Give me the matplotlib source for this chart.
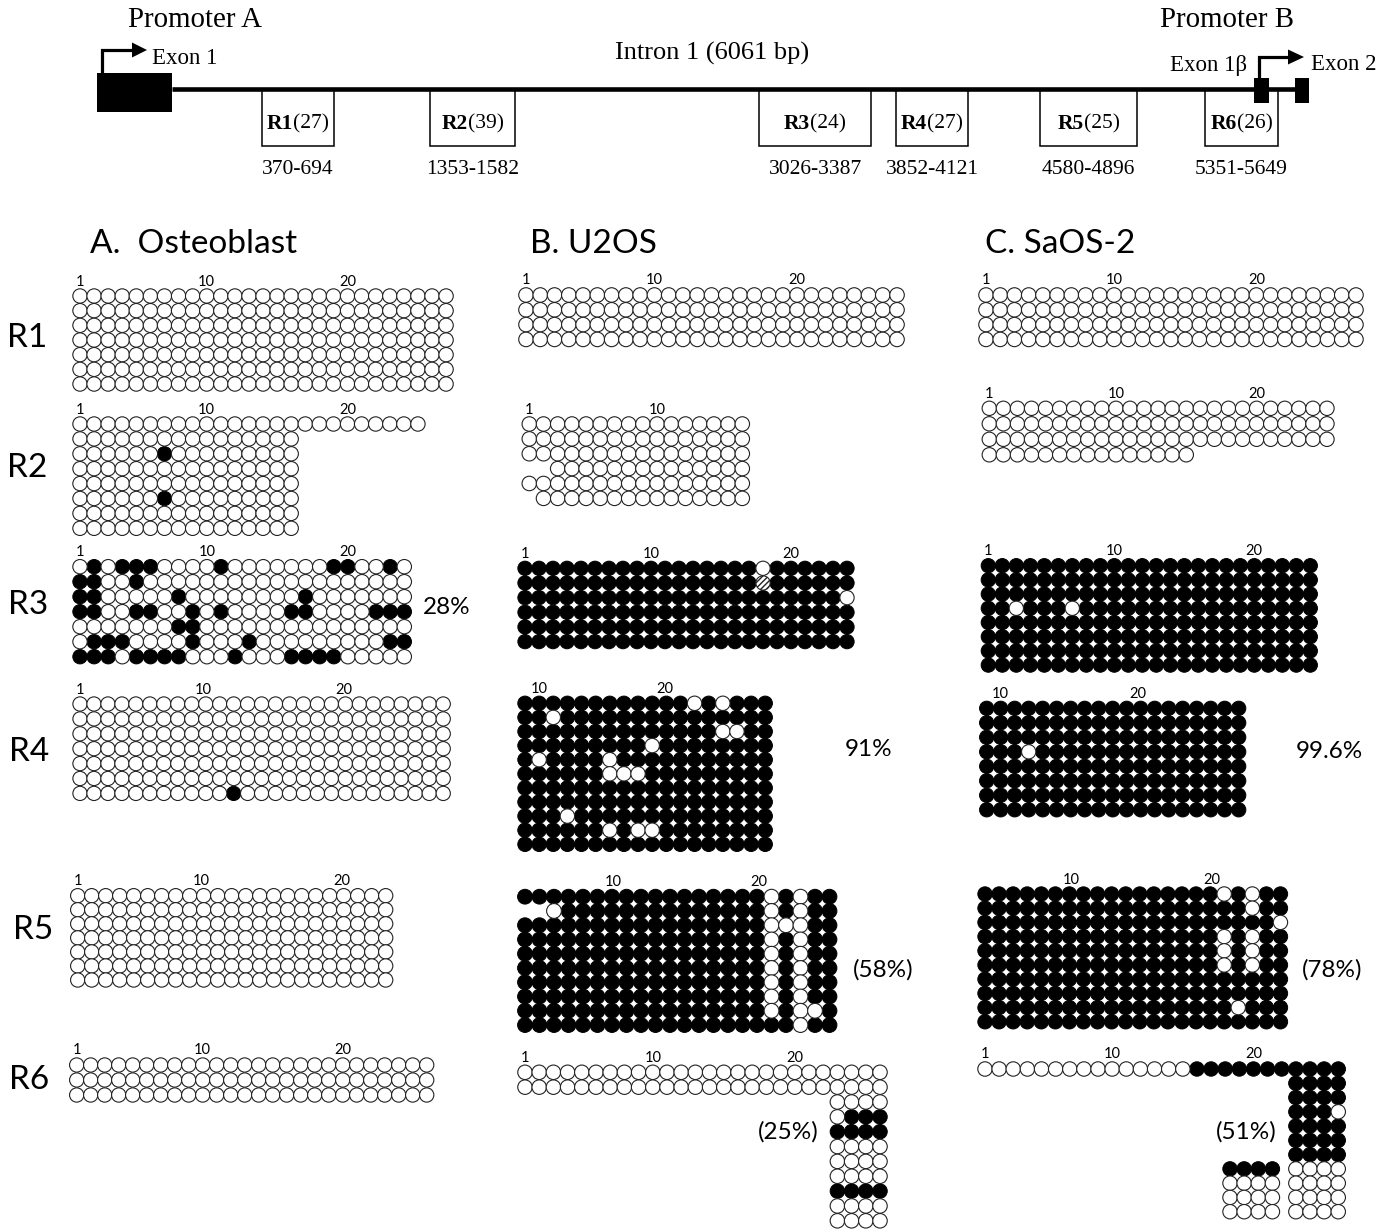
import matplotlib
matplotlib.use("Agg")
import matplotlib.pyplot as plt
from matplotlib.patches import Circle, Rectangle, Polygon
from matplotlib.collections import PatchCollection

SERIF = "Liberation Serif"
SANS = "Lato"

# ---------------- intron 1 map ----------------
regions = ["R1", "R2", "R3", "R4", "R5", "R6"]
region_cpg = [27, 39, 24, 27, 25, 26]
region_span = ["370-694", "1353-1582", "3026-3387", "3852-4121", "4580-4896", "5351-5649"]

# ---------------- bisulfite clones ----------------
# one string per clone: 1 = methylated CpG, 0 = unmethylated, / = not determined, . = no read
osteo_r1 = [
    "00000 00000 00000 00000 00000 00",
    "00000 00000 00000 00000 00000 00",
    "00000 00000 00000 00000 00000 00",
    "00000 00000 00000 00000 00000 00",
    "00000 00000 00000 00000 00000 00",
    "00000 00000 00000 00000 00000 00",
    "00000 00000 00000 00000 00000 00",
]
osteo_r2 = [
    "00000 00000 00000 00000 00000",
    "00000 00000 00000 0",
    "00000 01000 00000 0",
    "00000 00000 00000 0",
    "00000 00000 00000 0",
    "00000 01000 00000 0",
    "00000 00000 00000 0",
    "00000 00000 00000 0",
]
osteo_r3 = [
    "01011 10000 10000 00011 0010",
    "11001 00000 00000 00000 0000",
    "11000 00100 00000 01000 0000",
    "11001 10010 10000 11000 0111",
    "00000 00110 00000 00000 0000",
    "01110 00010 00100 00000 0011",
    "11101 11100 01000 11110 0000",
]
osteo_r4 = [
    "00000 00000 00000 00000 00000 00",
    "00000 00000 00000 00000 00000 00",
    "00000 00000 00000 00000 00000 00",
    "00000 00000 00000 00000 00000 00",
    "00000 00000 00000 00000 00000 00",
    "00000 00000 00000 00000 00000 00",
    "00000 00000 01000 00000 00000 00",
]
osteo_r5 = [
    "00000 00000 00000 00000 000",
    "00000 00000 00000 00000 000",
    "00000 00000 00000 00000 000",
    "00000 00000 00000 00000 000",
    "00000 00000 00000 00000 000",
    "00000 00000 00000 00000 000",
    "00000 00000 00000 00000 000",
]
osteo_r6 = [
    "00000 00000 00000 00000 00000 0",
    "00000 00000 00000 00000 00000 0",
    "00000 00000 00000 00000 00000 0",
]

u2os_r1 = [
    "00000 00000 00000 00000 00000 00",
    "00000 00000 00000 00000 00000 00",
    "00000 00000 00000 00000 00000 00",
    "00000 00000 00000 00000 00000 00",
]
u2os_r2 = [
    "00000 00000 00000 0",
    "00000 00000 00000 0",
    "00000 00000 00000 0",
    "..000 00000 00000 0",
    "00000 00000 00000 0",
    ".0000 00000 00000 0",
]
u2os_r3 = [
    "11111 11111 11111 11011 1111",
    "11111 11111 11111 11/11 1111",
    "11111 11111 11111 11111 1110",
    "11111 11111 11111 11111 1111",
    "11111 11111 11111 11111 1111",
    "11111 11111 11111 11111 1111",
]
u2os_r4 = [
    "11111 11111 11010 111",
    "11011 11111 11111 111",
    "11111 11111 11110 011",
    "11111 11110 11111 111",
    "10111 10111 11111 111",
    "11111 10001 11111 111",
    "11111 11111 11111 111",
    "11111 11111 11111 111",
    "11101 11111 11111 111",
    "11111 10100 11111 111",
    "11111 11111 11111 111",
]
u2os_r5 = [
    "11111 11111 11111 11010 11",
    "..011 11111 11111 11010 11",
    "11111 11111 11111 11000 11",
    "11111 11111 11111 11010 11",
    "11111 11111 11111 11010 11",
    "11111 11111 11111 11010 11",
    "11111 11111 11111 11010 11",
    "11111 11111 11111 11010 11",
    "11111 11111 11111 11010 01",
    "11111 11111 11111 11110 11",
]
u2os_r6 = [
    "00000 00000 00000 00000 00000 0",
    "00000 00000 00000 00000 00000 0",
    "..... ..... ..... ..... ..000 0",
    "..... ..... ..... ..... ..011 1",
    "..... ..... ..... ..... ..111 1",
    "..... ..... ..... ..... ..000 0",
    "..... ..... ..... ..... ..000 0",
    "..... ..... ..... ..... ..000 0",
    "..... ..... ..... ..... ..111 1",
    "..... ..... ..... ..... ..000 0",
    "..... ..... ..... ..... ..000 0",
]

saos_r1 = [
    "00000 00000 00000 00000 00000 00",
    "00000 00000 00000 00000 00000 00",
    "00000 00000 00000 00000 00000 00",
    "00000 00000 00000 00000 00000 00",
]
saos_r2 = [
    "00000 00000 00000 00000 00000",
    "00000 00000 00000 00000 00000",
    "00000 00000 00000 00000 00000",
    "00000 00000 00000",
]
saos_r3 = [
    "11111 11111 11111 11111 1111",
    "11111 11111 11111 11111 1111",
    "11111 11111 11111 11111 1111",
    "11011 10111 11111 11111 1111",
    "11111 11111 11111 11111 1111",
    "11111 11111 11111 11111 1111",
    "11111 11111 11111 11111 1111",
    "11111 11111 11111 11111 1111",
]
saos_r4 = [
    "11111 11111 11111 1111",
    "11111 11111 11111 1111",
    "11111 11111 11111 1111",
    "11101 11111 11111 1111",
    "11111 11111 11111 1111",
    "11111 11111 11111 1111",
    "11111 11111 11111 1111",
    "11111 11111 11111 1111",
]
saos_r5 = [
    "11111 11111 11111 11010 11",
    "11111 11111 11111 11110 11",
    "11111 11111 11111 11111 10",
    "11111 11111 11111 11010 11",
    "11111 11111 11111 11010 11",
    "11111 11111 11111 11010 11",
    "11111 11111 11111 11111 11",
    "11111 11111 11111 11111 11",
    "11111 11111 11111 11101 11",
    "11111 11111 11111 11111 11",
]
saos_r6 = [
    "00000 00000 00000 11111 11111 1",
    "..... ..... ..... ..... ..111 1",
    "..... ..... ..... ..... ..111 1",
    "..... ..... ..... ..... ..111 0",
    "..... ..... ..... ..... ..111 1",
    "..... ..... ..... ..... ..111 1",
    "..... ..... ..... ..... ..111 1",
    "..... ..... ..... ..... ..000 0",
    "..... ..... ..... ..... ..000 0",
    "..... ..... ..... ..... ..000 0",
    "..... ..... ..... ..... ..000 0",
]
saos_r6_extra = [
    "1111",
    "0000",
    "0000",
    "0000",
]

cell_titles = ["A.  Osteoblast", "B. U2OS", "C. SaOS-2"]
pct_labels = ["28%", "91%", "99.6%", "(58%)", "(78%)", "(25%)", "(51%)"]

# CpG number printed above a column: (text, column index in the drawn grid)
ticks_std = [("1", 0), ("10", 9), ("20", 19)]
ticks_a4 = [("1", 0), ("10", 8.8), ("20", 18.9)]
ticks_b4 = [("10", 1), ("20", 9.9)]
ticks_c4 = [("10", 1), ("20", 10.8)]
ticks_r5 = [("10", 6.1), ("20", 16.1)]

# ---------------- layout (figure pixels) ----------------
fig = plt.figure(figsize=(13.85, 12.3), dpi=100)
ax = fig.add_axes([0, 0, 1, 1])
ax.set_xlim(0, 1385)
ax.set_ylim(1230, 0)
ax.axis("off")

# main intron line and exons
ax.plot([172, 1306], [89, 89], color="black", lw=3.3, solid_capstyle="butt", zorder=3)
ax.add_patch(Rectangle((97, 73), 75, 39, fc="black", ec="none", zorder=4))
ax.add_patch(Rectangle((1254, 78), 15, 25, fc="black", ec="none", zorder=4))
ax.add_patch(Rectangle((1295, 78), 14, 25, fc="black", ec="none", zorder=4))


def bent_arrow(x, y0, y1, x_end, tip):
    ax.plot([x, x, x_end], [y0, y1, y1], color="black", lw=2.3,
            solid_joinstyle="miter", solid_capstyle="butt", zorder=4)
    ax.add_patch(Polygon([(x_end, y1 - 7.5), (tip, y1), (x_end, y1 + 7.5)],
                         closed=True, fc="black", ec="none", zorder=4))


bent_arrow(101.5, 73, 50, 132, 147)
bent_arrow(1259, 78, 57, 1288, 1304)

ax.text(128, 20, "Promoter A", family=SERIF, fontsize=20.8, va="center", ha="left")
ax.text(1160, 20, "Promoter B", family=SERIF, fontsize=20.8, va="center", ha="left")
ax.text(152, 58, "Exon 1", family=SERIF, fontsize=16.5, va="center", ha="left")
ax.text(712, 53, "Intron 1 (6061 bp)", family=SERIF, fontsize=19, va="center", ha="center")
ax.text(1247, 65, "Exon 1\u03b2", family=SERIF, fontsize=16.5, va="center", ha="right")
ax.text(1311, 65, "Exon 2", family=SERIF, fontsize=16.5, va="center", ha="left")

BOX_X = [(262, 334), (430, 515), (759, 871), (896, 968), (1040, 1137), (1205, 1278)]
renderer = fig.canvas.get_renderer()
for name, n, span, (x1, x2) in zip(regions, region_cpg, region_span, BOX_X):
    ax.add_patch(Rectangle((x1, 89), x2 - x1, 57, fc="white", ec="black", lw=1.1, zorder=2))
    t1 = ax.text(0, 124, name, family=SERIF, fontsize=15.5, fontweight="bold", va="center", ha="left")
    t2 = ax.text(0, 124, "(%d)" % n, family=SERIF, fontsize=15.5, va="center", ha="left")
    w1 = t1.get_window_extent(renderer).width
    w2 = t2.get_window_extent(renderer).width
    left = (x1 + x2) / 2 - (w1 + w2) / 2
    t1.set_x(left)
    t2.set_x(left + w1)
    ax.text((x1 + x2) / 2, 169, span, family=SERIF, fontsize=15.5, va="center", ha="center")

# panel and row headings
for title, x in zip(cell_titles, [90, 530, 985]):
    ax.text(x, 244, title, family=SANS, fontsize=24, va="center", ha="left")
for name, x, y in zip(regions, [27, 27, 28, 29, 33, 29], [338, 468, 605, 752, 930, 1080]):
    ax.text(x, y, name, family=SANS, fontsize=24, va="center", ha="center")

# grids: clones, first circle centre, column / row pitch, number labels
panels = [
    (osteo_r1, 80, 296, 14.08, 14.67, ticks_std),
    (osteo_r2, 80, 424, 14.08, 14.9, ticks_std),
    (osteo_r3, 80, 566.7, 14.1, 15.0, ticks_std),
    (osteo_r4, 80, 704, 13.97, 14.9, ticks_a4),
    (osteo_r5, 77.7, 895.7, 14.0, 14.05, ticks_a4),
    (osteo_r6, 76.7, 1065, 14.0, 15.0, ticks_std),
    (u2os_r1, 526, 295, 14.27, 14.8, ticks_std),
    (u2os_r2, 529.3, 424, 14.2, 14.87, ticks_std[:2]),
    (u2os_r3, 525, 568.3, 14.0, 14.67, ticks_std),
    (u2os_r4, 525, 703.3, 14.13, 14.1, ticks_b4),
    (u2os_r5, 525, 896.7, 14.5, 14.26, ticks_r5),
    (u2os_r6, 525, 1072.3, 14.2, 14.85, ticks_std),
    (saos_r1, 986, 295, 14.23, 14.8, ticks_std),
    (saos_r2, 989.3, 408.3, 14.07, 15.5, ticks_std),
    (saos_r3, 988.3, 565.7, 14.0, 14.2, ticks_std),
    (saos_r4, 986.7, 708.3, 14.0, 14.5, ticks_c4),
    (saos_r5, 985, 894, 14.07, 14.2, ticks_r5),
    (saos_r6, 985, 1069, 14.13, 14.27, ticks_std),
]
extra_blocks = [(saos_r6_extra, 985 + 17.34 * 14.13, 1069 + 7 * 14.27, 14.13, 14.27)]

open_c, full_c, hatch_c = [], [], []


def add_grid(rows, x0, y0, dx, dy):
    r = 0.5 * dx * 1.02
    for i, row in enumerate(rows):
        for j, c in enumerate(row.replace(" ", "")):
            if c == ".":
                continue
            circ = Circle((x0 + j * dx, y0 + i * dy), r)
            if c == "1":
                full_c.append(circ)
            elif c == "/":
                hatch_c.append(circ)
            else:
                open_c.append(circ)


for rows, x0, y0, dx, dy, ticks in panels:
    add_grid(rows, x0, y0, dx, dy)
    for txt, col in ticks:
        ax.text(x0 + col * dx, y0 - 14.5, txt, family=SANS, fontsize=10.5,
                va="center", ha="center")
for rows, x0, y0, dx, dy in extra_blocks:
    add_grid(rows, x0, y0, dx, dy)

ax.add_collection(PatchCollection(full_c, facecolor="black", edgecolor="black", lw=0.7, zorder=5))
ax.add_collection(PatchCollection(open_c, facecolor="white", edgecolor="#222222", lw=0.8, zorder=6))
for circ in hatch_c:
    circ.set_facecolor("white")
    circ.set_edgecolor("#222222")
    circ.set_hatch("//////")
    circ.set_linewidth(0.8)
    circ.set_zorder(6)
    ax.add_patch(circ)

# percent methylation per region
for txt, x, y in zip(pct_labels,
                     [447, 869, 1329, 883, 1332, 788, 1246],
                     [608, 750, 752, 970, 970, 1132, 1132]):
    ax.text(x, y, txt, family=SANS, fontsize=17.5, va="center", ha="center")

fig.savefig("out.png", dpi=100, facecolor="white")
